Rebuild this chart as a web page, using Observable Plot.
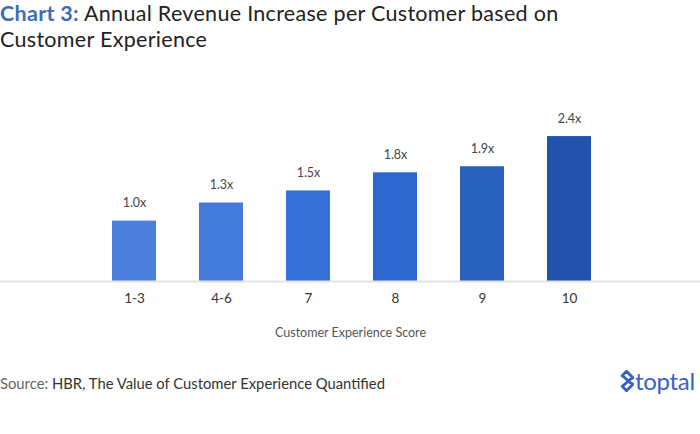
<!DOCTYPE html>
<html>
<head>
<meta charset="utf-8">
<script src="https://cdn.jsdelivr.net/npm/d3@7"></script>
<script src="https://cdn.jsdelivr.net/npm/@observablehq/plot@0.6"></script>
<style>
  html, body { margin: 0; padding: 0; background: #fff; }
  body { width: 700px; height: 434px; position: relative; overflow: hidden; font-family: Lato, "Open Sans", sans-serif; }
  #title { position: absolute; left: 0; top: 0; font-size: 21.5px; line-height: 26px; color: #222; letter-spacing: 0.3px; }
  #title b { color: #3a6db5; font-weight: 700; }
  #chart { position: absolute; left: 0; top: 52px; }
  #source { position: absolute; left: 0; top: 374px; font-size: 14.8px; color: #333; }
  #source span { color: #666; }
  #logo { position: absolute; left: 619px; top: 366px; display: flex; align-items: center; color: #3561c4; font-size: 24px; font-weight: 400; letter-spacing: -0.3px; }
  #logo svg { margin-right: 1px; }
</style>
</head>
<body>
<div id="title"><b>Chart 3:</b> Annual Revenue Increase per Customer based on<br>Customer Experience</div>
<div id="chart"></div>
<div id="source"><span>Source:</span> HBR, The Value of Customer Experience Quantified</div>
<div id="logo"><svg width="15" height="22" viewBox="0 0 14 20"><path d="M7 1 L3 5 L9 10 L3 15 L7 19 L13 13 L8 10 L13 7 Z" fill="none" stroke="#3561c4" stroke-width="2.6" stroke-linejoin="round"/></svg>toptal</div>
<script>
const categories = ["1-3", "4-6", "7", "8", "9", "10"];
const values = [1.0, 1.3, 1.5, 1.8, 1.9, 2.4];
const labels = ["1.0x", "1.3x", "1.5x", "1.8x", "1.9x", "2.4x"];
const colors = ["#4a80dc", "#457cdb", "#3571d6", "#2d67cf", "#2860bb", "#2153ad"];

const data = categories.map((c, i) => ({cat: c, value: values[i], label: labels[i], color: colors[i]}));

const chart = Plot.plot({
  width: 700,
  height: 300,
  marginLeft: 0,
  marginRight: 0,
  marginTop: 72,
  marginBottom: 71,
  style: {fontFamily: "Lato, 'Open Sans', sans-serif", background: "transparent"},
  x: {domain: categories, range: [66.2, 635.6], padding: 0.5, label: null},
  y: {domain: [0, 2.6], axis: null},
  marks: [
    Plot.barY(data, {x: "cat", y: "value", fill: "color"}),
    Plot.ruleY([0], {stroke: "#e2e2e8", strokeWidth: 2}),
    Plot.text(data, {x: "cat", y: "value", text: "label", dy: -18, fontSize: 12.5, fill: "#444"}),
    Plot.axisX({tickSize: 0, tickPadding: 12, fontSize: 13.5, color: "#333", label: null}),
    Plot.text(["Customer Experience Score"], {frameAnchor: "bottom", dy: 55, fontSize: 12.5, fill: "#555"})
  ]
});
document.getElementById("chart").appendChild(chart);
</script>
</body>
</html>
